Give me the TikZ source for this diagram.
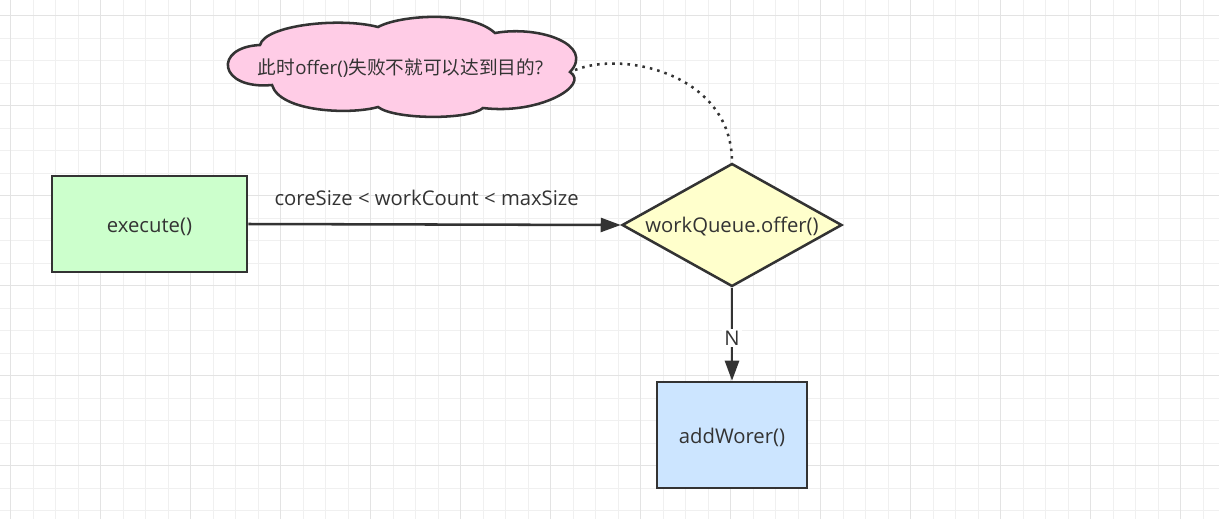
\documentclass[tikz,border=0pt]{standalone}
\usepackage{fontspec}
\setmainfont{Open Sans}
\newfontfamily\cjk{Noto Sans CJK SC}
\usetikzlibrary{shapes.geometric,arrows.meta}
\definecolor{strk}{HTML}{333333}
\definecolor{gmin}{HTML}{F0F0F0}
\definecolor{gmaj}{HTML}{E3E3E3}
\definecolor{fgreen}{HTML}{CCFFCC}
\definecolor{fyellow}{HTML}{FFFFCC}
\definecolor{fblue}{HTML}{CCE5FF}
\definecolor{fpink}{HTML}{FFCCE6}
\begin{document}
\begin{tikzpicture}[x=0.75pt,y=-0.75pt,
  mingrid/.style={gmin,line width=0.75pt},
  majgrid/.style={gmaj,line width=0.75pt},
  txtfont/.style={font=\fontsize{15.2pt}{17pt}\selectfont},
  boxsty/.style={draw=strk,line width=1.9pt,rectangle,inner sep=0pt,text=strk,txtfont,text height=13.5pt,text depth=0.5pt},
  diasty/.style={draw=strk,line width=1.9pt,diamond,shape aspect=1.79,inner sep=0pt,text=strk,fill=fyellow,txtfont,text height=12pt,text depth=0.5pt},
  conn/.style={draw=strk,line width=1.9pt,-{Triangle[length=15pt,width=10.5pt]}},
  lbl/.style={text=strk,txtfont},
  cloudsty/.style={draw=strk,line width=1.9pt,fill=fpink,line join=miter},
  dotline/.style={draw=strk,line width=1.9pt,dash pattern=on 1.9pt off 3.8pt}
]
\useasboundingbox (0,0) rectangle (1219,519);
\fill[white] (0,0) rectangle (1219,519);
% grid
\foreach \k in {0,...,53} \draw[mingrid] ({10.5+22.5*\k},0) -- ({10.5+22.5*\k},519);
\foreach \k in {0,...,22} \draw[mingrid] (0,{15.7+22.5*\k}) -- (1219,{15.7+22.5*\k});
\foreach \k in {0,...,13} \draw[majgrid] ({10.5+90*\k},0) -- ({10.5+90*\k},519);
\foreach \k in {0,...,5} \draw[majgrid] (0,{15.7+90*\k}) -- (1219,{15.7+90*\k});

% cloud
\path[cloudsty] (260,45) .. controls (265,25) and (340,17) .. (378,27)
  .. controls (400,15) and (470,10) .. (495,33)
  .. controls (540,25) and (595,45) .. (570,72)
  .. controls (590,85) and (540,115) .. (483,108)
  .. controls (470,120) and (395,120) .. (378,107)
  .. controls (350,115) and (280,112) .. (272,85)
  .. controls (218,90) and (213,47) .. (260,45) -- cycle;
\node[text=strk,font=\fontsize{14pt}{16pt}\selectfont,inner sep=0pt] (cloudtxt) at (400.5,68)
  {{\cjk 此时}offer(){\cjk 失败不就可以达到目的}?};
\coordinate (cloudR) at (575,70);

% nodes
\node[boxsty,fill=fgreen,minimum width=146.25pt,minimum height=72pt] (exec) at (149.5,224) {execute()};
\node[diasty,minimum width=165pt,minimum height=92.25pt] (dia) at (732,225) {workQueue.offer()};
\node[boxsty,fill=fblue,minimum width=112.5pt,minimum height=79.5pt] (add) at (732,435) {addWorer()};

% connectors
\draw[conn] (exec.east) -- node[lbl,pos=0.479,anchor=base,yshift=14.25pt,inner sep=0pt] (lblA) {coreSize < workCount < maxSize} (dia.west);
\draw[conn] (dia.south) -- node[lbl,pos=0.54,fill=white,inner sep=1.5pt] (lblN) {N} (add.north);
\draw[dotline] (cloudR) .. controls (625,50) and (732,75) .. (dia.north);
\end{tikzpicture}
\end{document}
